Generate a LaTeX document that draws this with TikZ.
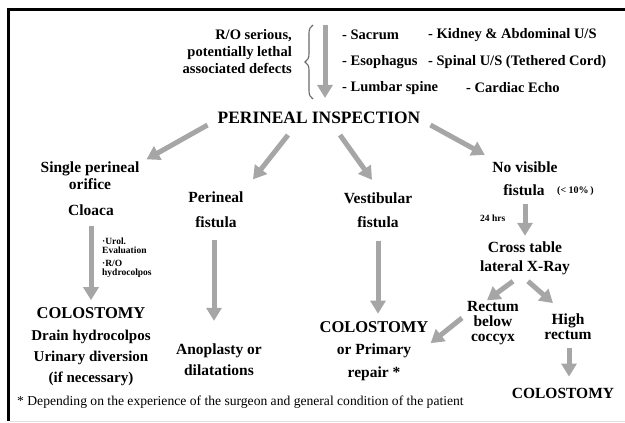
\documentclass[tikz,border=0pt]{standalone}
\usepackage{fontspec}
\setmainfont{Liberation Serif}
\usepackage{tikz}
\usetikzlibrary{arrows.meta,decorations.pathreplacing}
\definecolor{arrowgray}{HTML}{A6A6A6}
\definecolor{bracegray}{HTML}{6A6A6A}

\begin{document}
\begin{tikzpicture}[x=1pt,y=-1pt,line cap=butt,
  garrow/.style={draw=arrowgray,line width=5pt,-{Triangle[width=15pt,length=13pt]}},
  lbl/.style={font=\bfseries\fontsize{15.5}{#1}\selectfont,align=center,inner sep=0pt},
  lbl/.default=17,
  item/.style={font=\bfseries\fontsize{14.5}{17}\selectfont,inner sep=0pt,anchor=west},
  note/.style={font=\bfseries\fontsize{9.5}{9.5}\selectfont,align=left,inner sep=0pt,anchor=west}]
\useasboundingbox (0,0) rectangle (625,423);
% frame
\draw[black,line width=3pt] (7,9.5) -- (625,9.5);
\draw[black,line width=3pt] (8.5,8) -- (8.5,421);
\draw[gray!25,line width=1pt] (10,421) -- (625,421);

% associated defects
\node[item,align=right,anchor=east] (ro) at (292,52) {R/O serious,\\potentially lethal\\associated defects};
\draw[bracegray,line width=1.1pt,decorate,decoration={brace,amplitude=8pt}] (313,99) -- (313,25);
\coordinate (rotop) at (325,25);
\node[item] (sacrum) at (342,35) {- Sacrum};
\node[item] (esoph) at (342,62) {- Esophagus};
\node[item] (lumbar) at (342,88) {- Lumbar spine};
\node[item] (kidney) at (428,35) {- Kidney \& Abdominal U/S};
\node[item] (spinal) at (428,62) {- Spinal U/S (Tethered Cord)};
\node[item] (cardiac) at (466,88) {- Cardiac Echo};

\node[lbl,font=\bfseries\fontsize{17.4}{19}\selectfont] (insp) at (319,118) {PERINEAL INSPECTION};

% first row
\node[lbl] (single) at (90,176) {Single perineal\\orifice};
\node[lbl] (cloaca) at (91,210) {Cloaca};
\node[lbl=25] (peri) at (216,210) {Perineal\\fistula};
\node[lbl=24] (vest) at (378,210) {Vestibular\\fistula};
\node[lbl] (novis) at (525,167) {No visible};
\node[lbl] (novfis) at (524,190) {fistula};
\node[note,font=\bfseries\fontsize{10}{10}\selectfont] (pct) at (557,191) {(< 10\%\,)};

% notes
\node[note] (urol) at (102,246) {·Urol.\\Evaluation};
\node[note] (rohyd) at (102,269) {·R/O\\hydrocolpos};
\node[note] (hrs) at (480,218) {24 hrs};

% no visible fistula branch
\node[lbl=19] (cross) at (525,258) {Cross table\\lateral X-Ray};
\node[lbl=15] (below) at (493,323) {Rectum\\below\\coccyx};
\node[lbl=15] (high) at (568,327) {High\\rectum};
\node[lbl,font=\bfseries\fontsize{15.5}{17}\selectfont] (colR) at (563,393) {COLOSTOMY};

% results
\node[lbl,font=\bfseries\fontsize{15}{21.3}\selectfont] (colL) at (91,347)
  {{\fontsize{16.5}{17}\selectfont COLOSTOMY}\\Drain hydrocolpos\\Urinary diversion\\(if necessary)};
\node[lbl=21] (anopl) at (219,360) {Anoplasty or\\dilatations};
\node[lbl=22.5,font=\bfseries\fontsize{15.5}{22.5}\selectfont] (colM) at (374,351)
  {{\fontsize{16.5}{17}\selectfont COLOSTOMY}\\or Primary\\repair *};

\node[inner sep=0pt,anchor=west,font=\fontsize{13.6}{15}\selectfont] (foot) at (17,402)
  {* Depending on the experience of the surgeon and general condition of the patient};

% arrows
\draw[garrow] (rotop) -- ([xshift=6pt,yshift=14pt]insp.north);
\draw[garrow] ([xshift=-10pt,yshift=-1pt]insp.south west) -- ([xshift=7pt,yshift=2.5pt]single.north east);
\draw[garrow] ([xshift=-31pt,yshift=-11pt]insp.south) -- ([xshift=37pt,yshift=12.5pt]peri.north);
\draw[garrow] ([xshift=21pt,yshift=-11pt]insp.south) -- ([xshift=-6pt,yshift=12.5pt]vest.north);
\draw[garrow] ([xshift=10pt,yshift=-1pt]insp.south east) -- ([xshift=-7.5pt,yshift=6.5pt]novis.north west);
\draw[garrow] ([yshift=-10pt]cloaca.south) -- ([yshift=7.6pt]colL.north);
\draw[garrow] ([xshift=-2pt,yshift=-12pt]peri.south) -- ([xshift=-5pt,yshift=23pt]anopl.north);
\draw[garrow] ([yshift=-13pt]vest.south) -- ([xshift=4pt,yshift=7.5pt]colM.north);
\draw[garrow] ([xshift=1pt,yshift=-8pt]novfis.south) -- ([yshift=5.5pt]cross.north);
\draw[garrow] ([xshift=-12pt,yshift=-6.5pt]cross.south) -- ([xshift=-6pt,yshift=0.7pt]below.north);
\draw[garrow] ([xshift=3pt,yshift=-6.5pt]cross.south) -- ([xshift=-15pt,yshift=10.7pt]high.north);
\draw[garrow] ([xshift=-5pt,yshift=5pt]below.west) -- ([xshift=2pt,yshift=-22pt]colM.north east);
\draw[garrow] ([xshift=1pt,yshift=-8pt]high.south) -- ([xshift=6pt,yshift=11pt]colR.north);
\end{tikzpicture}
\end{document}
